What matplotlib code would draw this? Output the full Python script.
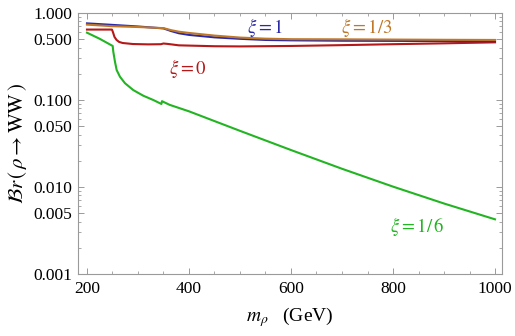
import matplotlib
matplotlib.use("Agg")
import matplotlib.pyplot as plt
from matplotlib.ticker import FixedLocator, NullFormatter

plt.rcParams['font.family'] = ['Liberation Serif', 'DejaVu Serif']
plt.rcParams['mathtext.fontset'] = 'stix'

# ---- data ----
m_blue = [200, 250, 300, 350, 365, 380, 400, 450, 500, 550, 600, 700, 800, 900, 1000]
br_blue = [0.76, 0.73, 0.70, 0.665, 0.62, 0.585, 0.56, 0.525, 0.505, 0.49, 0.485, 0.48, 0.478, 0.476, 0.475]

m_orange = [200, 250, 300, 350, 365, 380, 400, 450, 500, 550, 600, 700, 800, 900, 1000]
br_orange = [0.735, 0.705, 0.69, 0.67, 0.635, 0.61, 0.59, 0.55, 0.522, 0.507, 0.50, 0.498, 0.495, 0.492, 0.49]

m_red = [200, 249, 251, 254, 258, 263, 270, 290, 320, 345, 350, 360, 380, 450, 500, 600, 700, 800, 900, 1000]
br_red = [0.645, 0.645, 0.60, 0.53, 0.49, 0.465, 0.452, 0.44, 0.436, 0.438, 0.446, 0.44, 0.425, 0.415, 0.413, 0.418, 0.427, 0.438, 0.448, 0.46]

m_green = [200, 225, 250.4, 251.6, 254.9, 258.2, 264.7, 274.5, 290.8, 310.4, 330, 346, 347, 362, 400, 500, 600, 700, 800, 900, 1000]
br_green = [0.594, 0.505, 0.418, 0.359, 0.275, 0.221, 0.185, 0.156, 0.130, 0.112, 0.100, 0.090, 0.097, 0.0880, 0.0741, 0.0442, 0.0266, 0.0162, 0.0101, 0.00646, 0.00425]

x_major = [200, 400, 600, 800, 1000]
y_major = [0.001, 0.005, 0.010, 0.050, 0.100, 0.500, 1.000]
y_labels = ['0.001', '0.005', '0.010', '0.050', '0.100', '0.500', '1.000']

c_blue = '#2a2aa8'
c_orange = '#c07828'
c_red = '#b41818'
c_green = '#22b422'

fig = plt.figure(figsize=(5.15, 3.36), dpi=100)
ax = fig.add_axes([78/515, 1-274/336, (502-78)/515, (274-13)/336])

lw = 1.5
ax.plot(m_red, br_red, color=c_red, lw=lw)
ax.plot(m_blue, br_blue, color=c_blue, lw=lw)
ax.plot(m_orange, br_orange, color=c_orange, lw=lw)
ax.plot(m_green, br_green, color=c_green, lw=lw)

ax.set_yscale('log')
ax.set_xlim(182.4, 1013.7)
ax.set_ylim(0.001, 1.0)

ax.xaxis.set_major_locator(FixedLocator(x_major))
ax.xaxis.set_minor_locator(FixedLocator(list(range(200, 1001, 50))))
ax.yaxis.set_major_locator(FixedLocator(y_major))
ax.set_yticklabels(y_labels)
minors = []
for d in [0.001, 0.01, 0.1]:
    for k in [2, 3, 4, 6, 7, 8, 9]:
        minors.append(k * d)
ax.yaxis.set_minor_locator(FixedLocator(minors))
ax.yaxis.set_minor_formatter(NullFormatter())

frame_c = '#9a9a9a'
for s in ax.spines.values():
    s.set_color(frame_c)
    s.set_linewidth(0.8)
ax.tick_params(which='both', direction='in', top=True, right=True, color=frame_c, labelsize=12.5, labelcolor='black')
ax.tick_params(which='major', length=4, width=0.7, pad=4)
ax.tick_params(which='minor', length=2, width=0.6)
ax.tick_params(axis='x', pad=5)

fs = 13.5
ax.text(549, 0.68, r'$\xi = 1$', color=c_blue, fontsize=fs, ha='center', va='center')
ax.text(748, 0.68, r'$\xi = 1/3$', color=c_orange, fontsize=fs, ha='center', va='center')
ax.text(398, 0.233, r'$\xi = 0$', color=c_red, fontsize=fs, ha='center', va='center')
ax.text(848, 0.0035, r'$\xi = 1/\,6$', color=c_green, fontsize=fs, ha='center', va='center')

ax.set_ylabel(r'$\mathcal{B}r\,(\,\rho \rightarrow \mathrm{WW}\,)$', fontsize=15, labelpad=3)
ax.set_xlabel(r'$m_\rho$   (GeV)', fontsize=14, labelpad=6)

fig.savefig('out.png', dpi=100)
